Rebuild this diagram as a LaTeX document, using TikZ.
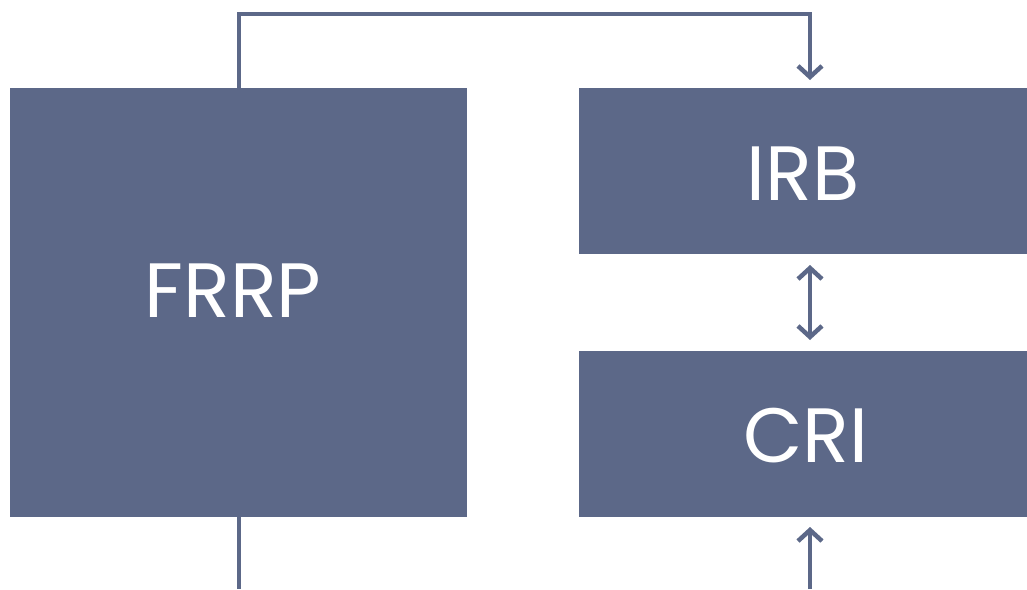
\documentclass[tikz,border=0pt]{standalone}
\usepackage{fontspec}
\setmainfont{Poppins}
\usetikzlibrary{arrows.meta}
\definecolor{boxblue}{HTML}{5C6888}
\begin{document}
\begin{tikzpicture}[x=1pt,y=-1pt,
  blk/.style={fill=none,draw=none,text=white,font=\fontsize{77}{92}\selectfont},
  conn/.style={draw=boxblue,line width=4.5pt},
  barb/.tip={Straight Barb[length=11pt,width=24pt]},
  tip/.style={-barb}]
\useasboundingbox (0,0) rectangle (1027,589);
\fill[boxblue] (10,88) rectangle (467,517);
\node[blk] (frrp) at (233,291) {FRRP};
\coordinate (frrpT) at (239,88);
\coordinate (frrpB) at (239,517);
\fill[boxblue] (579,88) rectangle (1027,254);
\node[blk] (irb) at (803,174) {IRB};
\coordinate (irbT) at (810,88);
\coordinate (irbB) at (810,254);
\fill[boxblue] (579,351) rectangle (1027,517);
\node[blk] (cri) at (806,436) {CRI};
\coordinate (criT) at (810,351);
\coordinate (criB) at (810,517);
\coordinate (outA) at (239,589);
\coordinate (inB) at (810,589);
\draw[conn,tip] (frrpT) |- (524.5,14) -| ([yshift=8]irbT);
\draw[conn,barb-barb] ([yshift=-11]irbB) -- ([yshift=11]criT);
\draw[conn] (frrpB) -- (outA);
\draw[conn,tip] (inB) -- ([yshift=-10]criB);
\end{tikzpicture}
\end{document}
